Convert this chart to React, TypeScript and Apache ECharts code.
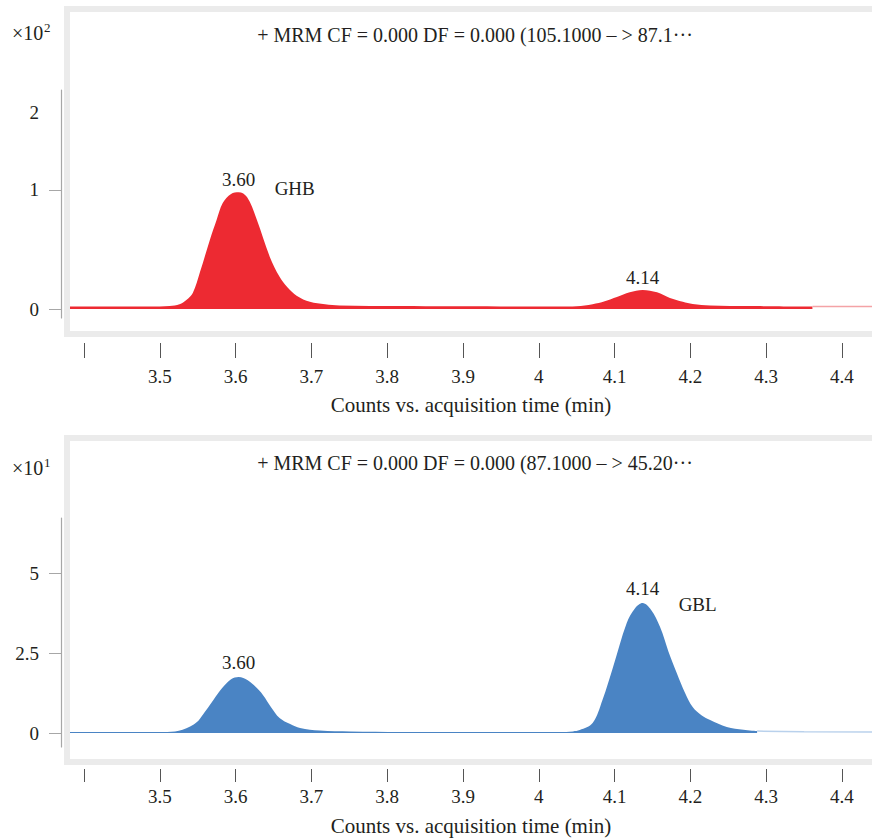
import React, { useEffect, useRef } from "react";
import * as echarts from "echarts";

// Top panel: GHB transition (counts ×10²)
const timeTop = [
  3.381, 3.45, 3.5, 3.513, 3.526, 3.535, 3.5435, 3.553, 3.566, 3.575, 3.583, 3.594, 3.604, 3.615,
  3.628, 3.645, 3.658, 3.668, 3.681, 3.698, 3.718, 3.737, 3.817, 3.949, 4.028, 4.05, 4.071, 4.087,
  4.103, 4.12, 4.137, 4.156, 4.173, 4.19, 4.203, 4.226, 4.278, 4.361, 4.4, 4.4396,
];
const countsTop = [
  0.02, 0.02, 0.022, 0.025, 0.04, 0.075, 0.134, 0.31, 0.58, 0.75, 0.89, 0.966, 0.98, 0.94,
  0.75, 0.44, 0.27, 0.185, 0.11, 0.06, 0.04, 0.03, 0.025, 0.022, 0.022, 0.024, 0.04, 0.065,
  0.1, 0.14, 0.16, 0.14, 0.092, 0.06, 0.042, 0.03, 0.025, 0.022, 0.021, 0.021,
];
const fillEndTop = 4.361;

// Bottom panel: GBL transition (counts ×10¹)
const timeBottom = [
  3.381, 3.5, 3.52, 3.53, 3.54, 3.549, 3.557, 3.566, 3.574, 3.582, 3.594, 3.604, 3.616, 3.626,
  3.636, 3.647, 3.658, 3.672, 3.685, 3.711, 3.751, 3.883, 4.028, 4.045, 4.054, 4.071, 4.084,
  4.098, 4.116, 4.127, 4.137, 4.148, 4.16, 4.171, 4.182, 4.193, 4.203, 4.215, 4.226, 4.248, 4.27,
  4.288, 4.35, 4.4396,
];
const countsBottom = [
  0.03, 0.03, 0.05, 0.1, 0.2, 0.34, 0.58, 0.875, 1.15, 1.4, 1.68, 1.75, 1.65, 1.45,
  1.19, 0.8, 0.47, 0.28, 0.16, 0.08, 0.05, 0.03, 0.03, 0.05, 0.09, 0.31, 1.03,
  2.06, 3.44, 3.9, 4.06, 3.85, 3.31, 2.55, 1.875, 1.25, 0.81, 0.55, 0.41, 0.19, 0.1,
  0.06, 0.04, 0.03,
];
const fillEndBottom = 4.288;

const xTickValues = [3.4, 3.5, 3.6, 3.7, 3.8, 3.9, 4.0, 4.1, 4.2, 4.3, 4.4];
const xLabelValues = [3.5, 3.6, 3.7, 3.8, 3.9, 4.0, 4.1, 4.2, 4.3, 4.4];
const xLabels = ["3.5", "3.6", "3.7", "3.8", "3.9", "4", "4.1", "4.2", "4.3", "4.4"];

const yTicksTop = [0, 1];
const yTicksBottom = [0, 2.5, 5];
const yLabelsBottom = ["0", "2.5", "5"];

const titleTop = "+ MRM CF = 0.000 DF = 0.000 (105.1000 – > 87.1···";
const titleBottom = "+ MRM CF = 0.000 DF = 0.000 (87.1000 – > 45.20···";
const xName = "Counts vs. acquisition time (min)";

const peaksTop = [
  { t: 3.604, label: "3.60", name: "GHB" },
  { t: 4.137, label: "4.14", name: "" },
];
const peaksBottom = [
  { t: 3.604, label: "3.60", name: "" },
  { t: 4.137, label: "4.14", name: "GBL" },
];

const FONT = "'Liberation Serif', 'Times New Roman', serif";
const FS = 19;
const FS_TITLE = 20;
const FS_NAME = 21;
const TXT = "#231f20";
const RED = "#ed2a32";
const RED_LIGHT = "#f4a3a6";
const BLUE = "#4a84c4";
const BLUE_LIGHT = "#b9d1ec";
const XMIN = 3.3815;
const XMAX = 4.4396;

function pairs(ts: number[], vs: number[]) {
  return ts.map((t, i) => [t, vs[i]]);
}

function valueAt(ts: number[], vs: number[], t: number) {
  const i = ts.indexOf(t);
  return i >= 0 ? vs[i] : 0;
}

function hiddenX(gridIndex: number) {
  return {
    type: "value",
    gridIndex,
    min: XMIN,
    max: XMAX,
    show: false,
    splitLine: { show: false },
  };
}

function tickX(gridIndex: number, tickLen: number, margin: number, nameGap: number) {
  return {
    type: "value",
    gridIndex,
    min: XMIN,
    max: XMAX,
    position: "bottom",
    name: xName,
    nameLocation: "middle",
    nameGap,
    nameTextStyle: { fontFamily: FONT, fontSize: FS_NAME, color: TXT },
    axisLine: { show: false },
    splitLine: { show: false },
    axisTick: {
      show: true,
      customValues: xTickValues,
      length: tickLen,
      lineStyle: { color: "#555", width: 1 },
    },
    axisLabel: {
      customValues: xLabelValues,
      margin,
      fontFamily: FONT,
      fontSize: FS,
      color: TXT,
      formatter: (v: number) => {
        const i = xLabelValues.findIndex((x) => Math.abs(x - v) < 1e-6);
        return i >= 0 ? xLabels[i] : "";
      },
    },
  };
}

export default function App() {
  const ref = useRef<HTMLDivElement>(null);
  useEffect(() => {
    if (!ref.current) return;
    const chart = echarts.init(ref.current, null, { renderer: "svg" });

    const topData = pairs(timeTop, countsTop);
    const botData = pairs(timeBottom, countsBottom);

    const markLabels = (peaks: any[], ts: number[], vs: number[], dist: number, nameDy: number) => {
      const out: any[] = [];
      peaks.forEach((p) => {
        const v = valueAt(ts, vs, p.t);
        out.push({
          coord: [p.t, v],
          symbol: "circle",
          symbolSize: 0,
          label: {
            show: true,
            position: "top",
            distance: dist,
            formatter: p.label,
            fontFamily: FONT,
            fontSize: FS,
            color: TXT,
          },
        });
        if (p.name) {
          out.push({
            coord: [p.t, v],
            symbol: "circle",
            symbolSize: 0,
            label: {
              show: true,
              position: "right",
              offset: [31, nameDy],
              formatter: p.name,
              fontFamily: FONT,
              fontSize: FS,
              color: TXT,
            },
          });
        }
      });
      return out;
    };

    const option: any = {
      animation: false,
      backgroundColor: "#fff",
      title: [
        {
          text: titleTop,
          left: 470,
          top: 20,
          textAlign: "center",
          textStyle: { fontFamily: FONT, fontSize: FS_TITLE, fontWeight: "normal", color: TXT },
        },
        {
          text: titleBottom,
          left: 470,
          top: 448,
          textAlign: "center",
          textStyle: { fontFamily: FONT, fontSize: FS_TITLE, fontWeight: "normal", color: TXT },
        },
      ],
      graphic: [
        {
          type: "rect",
          z: -10,
          shape: { x: 67, y: 9, width: 830, height: 325 },
          style: { fill: "#fff", stroke: "#ebebeb", lineWidth: 6 },
          silent: true,
        },
        {
          type: "rect",
          z: -10,
          shape: { x: 67, y: 438, width: 830, height: 324 },
          style: { fill: "#fff", stroke: "#ebebeb", lineWidth: 6 },
          silent: true,
        },
        { type: "text", left: 12, top: 23, style: { text: "×10", font: `20px ${FONT}`, fill: TXT } },
        { type: "text", left: 44, top: 21, style: { text: "2", font: `13px ${FONT}`, fill: TXT } },
        { type: "text", left: 12, top: 458, style: { text: "×10", font: `20px ${FONT}`, fill: TXT } },
        { type: "text", left: 44, top: 456, style: { text: "1", font: `13px ${FONT}`, fill: TXT } },
      ],
      grid: [
        { left: 70, right: 0, top: 90, height: 228 },
        { left: 70, right: 0, top: 518, height: 229 },
        { left: 70, right: 0, top: 90, height: 253 },
        { left: 70, right: 0, top: 518, height: 251 },
      ],
      xAxis: [hiddenX(0), hiddenX(1), tickX(2, 15, 24, 51), tickX(3, 13, 18, 46)],
      yAxis: [
        {
          type: "value",
          gridIndex: 0,
          min: -0.0756,
          max: 1.84,
          offset: 9,
          splitLine: { show: false },
          axisLine: { show: true, lineStyle: { color: "#a7a7a7", width: 1.2 } },
          axisTick: { show: true, customValues: yTicksTop, length: 12, lineStyle: { color: "#a7a7a7" } },
          axisLabel: {
            customValues: [0, 1, 1.647],
            margin: 22,
            fontFamily: FONT,
            fontSize: FS,
            color: TXT,
            formatter: (v: number) => (v > 1.5 ? "2" : String(Math.round(v))),
          },
        },
        {
          type: "value",
          gridIndex: 1,
          min: -0.4375,
          max: 6.72,
          offset: 9,
          splitLine: { show: false },
          axisLine: { show: true, lineStyle: { color: "#a7a7a7", width: 1.2 } },
          axisTick: { show: true, customValues: yTicksBottom, length: 12, lineStyle: { color: "#a7a7a7" } },
          axisLabel: {
            customValues: yTicksBottom,
            margin: 22,
            fontFamily: FONT,
            fontSize: FS,
            color: TXT,
            formatter: (v: number) => {
              const i = yTicksBottom.findIndex((x) => Math.abs(x - v) < 1e-6);
              return i >= 0 ? yLabelsBottom[i] : "";
            },
          },
        },
        { type: "value", gridIndex: 2, show: false, splitLine: { show: false } },
        { type: "value", gridIndex: 3, show: false, splitLine: { show: false } },
      ],
      series: [
        {
          type: "line",
          xAxisIndex: 0,
          yAxisIndex: 0,
          data: topData.filter((d) => d[0] >= fillEndTop),
          symbol: "none",
          lineStyle: { color: RED_LIGHT, width: 1.5 },
          silent: true,
        },
        {
          type: "line",
          xAxisIndex: 0,
          yAxisIndex: 0,
          data: topData.filter((d) => d[0] <= fillEndTop),
          symbol: "none",
          smooth: 0.35,
          lineStyle: { width: 0 },
          areaStyle: { color: RED, opacity: 1, origin: 0 },
          markPoint: { data: markLabels(peaksTop, timeTop, countsTop, 3, -4) },
          silent: true,
        },
        {
          type: "line",
          xAxisIndex: 1,
          yAxisIndex: 1,
          data: botData.filter((d) => d[0] >= fillEndBottom),
          symbol: "none",
          lineStyle: { color: BLUE_LIGHT, width: 1.5 },
          silent: true,
        },
        {
          type: "line",
          xAxisIndex: 1,
          yAxisIndex: 1,
          data: botData.filter((d) => d[0] <= fillEndBottom),
          symbol: "none",
          smooth: 0.35,
          lineStyle: { width: 0 },
          areaStyle: { color: BLUE, opacity: 1, origin: 0 },
          markPoint: { data: markLabels(peaksBottom, timeBottom, countsBottom, 5, 1) },
          silent: true,
        },
      ],
    };
    chart.setOption(option);
    return () => chart.dispose();
  }, []);
  return (
    <div
      ref={ref}
      style={{ position: "absolute", left: 0, top: 0, width: 872, height: 839, background: "#fff" }}
    />
  );
}
